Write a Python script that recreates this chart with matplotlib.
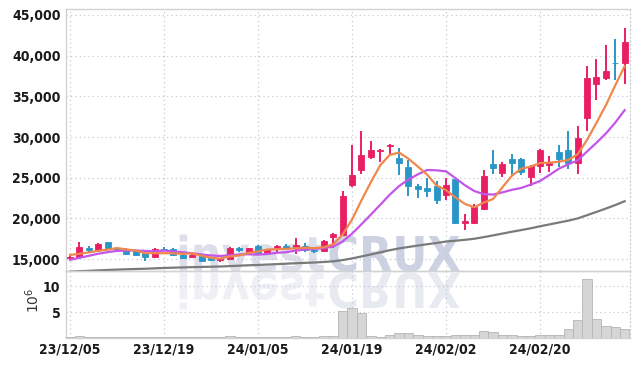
import matplotlib
matplotlib.use("Agg")
import matplotlib.pyplot as plt
from matplotlib.textpath import TextPath
from matplotlib.patches import PathPatch, Rectangle
from matplotlib.font_manager import FontProperties
from matplotlib.transforms import Affine2D
import matplotlib.ticker as mticker

dates = ["23/12/05","23/12/06","23/12/07","23/12/08","23/12/11","23/12/12","23/12/13","23/12/14",
         "23/12/15","23/12/18","23/12/19","23/12/20","23/12/21","23/12/22","23/12/26","23/12/27",
         "23/12/28","24/01/02","24/01/03","24/01/04","24/01/05","24/01/08","24/01/09","24/01/10",
         "24/01/11","24/01/12","24/01/15","24/01/16","24/01/17","24/01/18","24/01/19","24/01/22",
         "24/01/23","24/01/24","24/01/25","24/01/26","24/01/29","24/01/30","24/01/31","24/02/01",
         "24/02/02","24/02/05","24/02/06","24/02/07","24/02/08","24/02/13","24/02/14","24/02/15",
         "24/02/16","24/02/19","24/02/20","24/02/21","24/02/22","24/02/23","24/02/26","24/02/27",
         "24/02/28","24/02/29","24/03/04","24/03/05"]

opens = [15100,15200,16300,16150,17050,16350,16250,15950,15700,15200,16250,16250,15450,15200,15400,15200,
         14850,15050,16300,15900,16650,15700,16400,16650,16500,16650,16100,15950,17700,18000,24050,26000,
         27550,28300,28900,27450,26300,23950,23700,23950,22850,24800,19450,19400,21100,26650,25600,27350,
         27350,25100,26400,26500,28200,28350,26800,32350,36550,37300,39150,39150]
highs = [15350,17050,16600,16950,17100,16450,16350,16050,15750,16300,16450,16350,15550,15900,15500,15250,
         15150,16450,16500,16400,16750,16250,16700,16800,17550,16950,16150,17400,18150,23400,29000,30700,
         29500,28500,29100,28700,27200,24200,25000,24600,25000,24900,20500,21800,26000,28450,26900,27950,
         27450,26500,28550,27650,29000,30700,31400,38750,39600,41250,42050,43450]
lows = [14950,15150,15900,16050,16050,16050,15500,15400,14800,15150,15950,15400,15000,15100,14650,14750,
        14600,15000,15900,15850,15700,15600,15900,16100,15600,15900,15700,15850,16300,17950,23850,25500,
        27350,26900,27950,25300,22700,22450,22650,21750,22300,19300,18550,19350,21000,25400,25100,25300,
        25300,24000,25600,25700,26300,26100,25500,30700,34550,37000,37000,36550]
closes = [15200,16450,16150,16800,16200,16150,15600,15450,15200,16200,16150,15500,15100,15550,14750,14850,
          15050,16400,16150,16350,15750,16200,16650,16300,16700,16100,15950,17250,18050,22700,25300,27750,
          28450,28450,29000,26800,23950,23650,23400,22300,24050,19450,19700,21350,25150,26250,26650,26800,
          25700,26400,28450,26900,27350,26800,29900,37250,37400,38150,39050,41700]
ma5 = [15500,15650,15820,16000,16160,16350,16180,16040,15720,15720,15720,15700,15630,15700,15410,15150,
       15060,15320,15440,15760,15940,16170,16220,16250,16320,16390,16340,16460,16810,18010,19850,22210,
       24450,26530,27790,28090,27330,26370,25360,24020,23470,22570,21780,21370,21940,22380,23820,25240,
       26110,26360,26800,26850,26960,27180,27880,29640,31740,33900,36350,38710]
ma10 = [14900,15150,15400,15650,15850,16000,16050,16050,16000,15940,16035,15940,15835,15710,15565,15435,
        15380,15475,15570,15585,15545,15615,15770,15845,16040,16165,16255,16340,16530,17165,18120,19275,
        20455,21670,22900,23970,24770,25410,25945,25905,25780,24950,24075,23365,22980,22925,23195,23510,
        23740,24150,24590,25335,26100,26645,27120,28220,29295,30430,31765,33300]
ma60 = [13450,13502,13549,13607,13655,13702,13740,13776,13807,13855,13902,13938,13968,14005,14029,14055,
        14084,14135,14182,14233,14274,14322,14378,14428,14484,14530,14574,14640,14719,14875,15075,15316,
        15568,15820,16081,16306,16483,16655,16823,16973,17152,17254,17360,17494,17691,17907,18129,18354,
        18560,18778,19030,19256,19490,19715,19991,20390,20791,21205,21634,22107]
volume = [0.15,0.4,0.15,0.1,0.2,0.15,0.1,0.15,0.25,0.15,0.2,0.15,0.1,0.2,0.15,0.1,
          0.1,0.3,0.2,0.15,0.2,0.15,0.2,0.25,0.45,0.2,0.15,0.35,0.4,5.2,5.8,4.9,
          0.4,0.2,0.5,1.0,1.0,0.5,0.3,0.4,0.3,0.6,0.5,0.6,1.4,1.2,0.5,0.6,
          0.3,0.4,0.5,0.6,0.6,1.7,3.5,11.4,3.7,2.4,2.2,1.8]
price_ticks = [15000,20000,25000,30000,35000,40000,45000]
vol_ticks = [5,10]

RED = "#e91e63"
BLUE = "#2a96c8"
GRID = "#c5c9d8"
FP_TICK = FontProperties(family="DejaVu Sans", stretch="condensed", weight="bold", size=10)

W, H = 639, 366
fig = plt.figure(figsize=(W/100, H/100), dpi=100)
L, R = 66/W, 630/W
ax = fig.add_axes([L, 1-271/H, R-L, (271-9)/H])
axv = fig.add_axes([L, 1-338/H, R-L, (338-271)/H], sharex=ax)
ax.set_zorder(2)
axv.set_zorder(2)

n = len(closes)
x = list(range(n))
bw = 0.64
for i in x:
    o, h, l, c = opens[i], highs[i], lows[i], closes[i]
    col = RED if c >= o else BLUE
    ax.vlines(i, l, h, color=col, lw=1.4, zorder=4)
    lo, hi = min(o, c), max(o, c)
    if hi - lo < 60:
        ax.hlines((o + c) / 2, i - bw/2, i + bw/2, color=col, lw=1.6, zorder=4)
    else:
        ax.add_patch(Rectangle((i - bw/2, lo), bw, hi - lo, facecolor=col,
                               edgecolor=col, lw=0.6, zorder=4))

ax.plot(x, ma60, color="#7a7a7a", lw=1.6, zorder=3)
ax.plot(x, ma10, color="#c455e8", lw=1.6, zorder=5)
ax.plot(x, ma5, color="#f0874c", lw=1.6, zorder=5)

axv.bar(x, volume, width=1.0, color="#d6d6d6", edgecolor="#b5b5b5", lw=0.6, zorder=3)

ax.set_xlim(-0.43, 59.57)
ax.set_ylim(13530, 45735)
axv.set_ylim(0, 12.9)

ax.set_yticks(price_ticks)
ax.yaxis.set_major_formatter(mticker.FuncFormatter(lambda v, p: f"{int(v):,}"))
axv.set_yticks(vol_ticks)
xt = list(range(0, n, 10))
axv.set_xticks(xt)
axv.set_xticklabels([dates[i] for i in xt])
ax.tick_params(axis="x", labelbottom=False)

for a in (ax, axv):
    a.tick_params(length=0, pad=4, labelcolor="#1a1a1a")
    for lab in a.get_yticklabels() + a.get_xticklabels():
        lab.set_fontproperties(FP_TICK)
    a.grid(True, linestyle=(0, (1, 2.5)), color=GRID, lw=0.9, zorder=0)
    for s in ("left", "top", "bottom"):
        a.spines[s].set_color("#d2d2d2")
        a.spines[s].set_linewidth(1.0)
    a.spines["right"].set_color(GRID)
    a.spines["right"].set_linestyle((0, (1, 2.5)))
    a.set_facecolor("none")

axv.tick_params(axis="x", pad=3)
fig.text(33/W, 1-300/H, r"$10^6$", rotation=90, ha="center", va="center",
         fontsize=10, color="#333333")

# watermark with mirrored reflection (drawn behind the axes contents)
fp = FontProperties(family="DejaVu Sans", stretch="condensed", weight="bold")
size = 48
tp1 = TextPath((0, 0), "invest", size=size, prop=fp)
tp2 = TextPath((0, 0), "CRUX", size=size, prop=fp)
w1 = tp1.get_extents().x1
x0 = 176
base = 271
for tp, dx, col, rcol in ((tp1, 0, "#dcdfea", "#eef0f5"), (tp2, w1 + 3, "#cdd2e3", "#e8eaf2")):
    t = Affine2D().translate(x0 + dx, H - base)
    fig.patches.append(PathPatch(tp, transform=t, facecolor=col, edgecolor="none", zorder=1))
    tf = Affine2D().scale(1, -1).translate(x0 + dx, H - base - 2)
    fig.patches.append(PathPatch(tp, transform=tf, facecolor=rcol, edgecolor="none", zorder=1))

fig.savefig("out.png", dpi=100)
